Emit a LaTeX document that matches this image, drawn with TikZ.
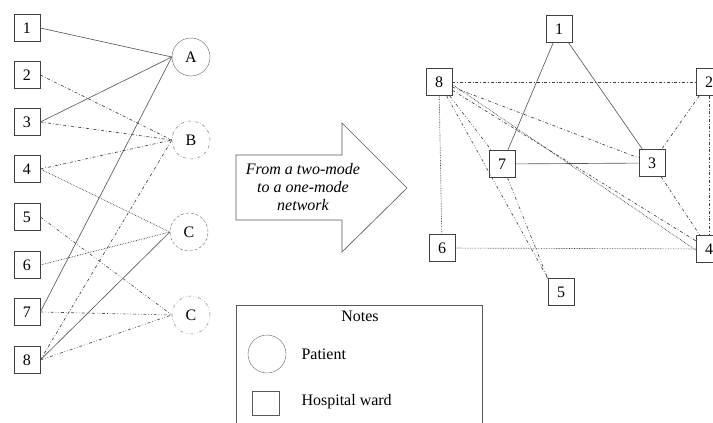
\documentclass[tikz,border=0pt]{standalone}
\usepackage{fontspec}
\setmainfont{Liberation Serif}
\begin{document}
\begin{tikzpicture}[x=1pt,y=-1pt,
    font=\fontsize{16}{19}\selectfont,
    ward/.style={draw=black!75, line width=0.7pt, minimum width=26, minimum height=27, inner sep=0},
    patient/.style={draw=black!60, circle, minimum size=38, inner sep=0},
    lineA/.style={draw=black!65, line width=0.65pt},
    lineB/.style={draw=black!75, line width=0.65pt, dash dot},
    lineC/.style={draw=black!80, line width=0.65pt, densely dotted},
    lineD/.style={draw=black!70, line width=0.65pt, dash dot dot}]
    \useasboundingbox (0,0) rectangle (713,423);
    \clip (0,0) rectangle (713,423);
    % two-mode network
    \foreach \i/\yy in {1/28,2/75,3/122,4/169,5/217,6/265,7/312,8/360} {
        \node[ward] (l\i) at (27,\yy) {\i};
    }
    \node[patient] (pA) at (191,57) {A};
    \node[patient, dash dot] (pB) at (191,140) {B};
    \node[patient, densely dashed] (pC) at (189,232) {C};
    \node[patient, dash dot dot] (pD) at (191,315) {C};
    \draw[lineA] (l1.east) -- (pA.west);
    \draw[lineA] (l3.east) -- (pA.west);
    \draw[lineA] (l7.east) -- (pA.west);
    \draw[lineB] (l2.east) -- (pB.west);
    \draw[lineB] (l3.east) -- (pB.west);
    \draw[lineB] (l4.east) -- (pB.west);
    \draw[lineB] (l8.east) -- (pB.west);
    \draw[lineC] (l4.east) -- (pC.west);
    \draw[lineC] (l6.east) -- (pC.west);
    \draw[lineA] (l8.east) -- (pC.west);
    \draw[lineD] (l5.east) -- (pD.west);
    \draw[lineD] (l7.east) -- (pD.west);
    \draw[lineD] (l8.east) -- (pD.west);
    % arrow
    \draw[black!65, line width=0.65pt] (236,155) -- (342,155) -- (342,123) -- (407,188)
        -- (342,252) -- (342,220) -- (236,220) -- cycle;
    \node[align=center, font=\fontsize{16}{18}\selectfont\itshape] (lbl) at (303,187)
        {From a two-mode\\to a one-mode\\network};
    % one-mode network
    \node[ward] (r1) at (559,29) {1};
    \node[ward] (r2) at (709,82) {2};
    \node[ward] (r3) at (652,163) {3};
    \node[ward] (r4) at (709,249) {4};
    \node[ward] (r5) at (561,292) {5};
    \node[ward] (r6) at (442,248) {6};
    \node[ward] (r7) at (502,164) {7};
    \node[ward] (r8) at (439,82) {8};
    \draw[lineA] (r1) -- (r7);
    \draw[lineA] (r1) -- (r3);
    \draw[lineA] (r7) -- (r3);
    \draw[lineB] (r8) -- (r2);
    \draw[lineB] (r8) -- (r3);
    \draw[lineB] (r2) -- (r3);
    \draw[lineB] (r2) -- (r4);
    \draw[lineB] (r3) -- (r4);
    \draw[lineB] (r8) -- (r4);
    \draw[lineC] ([yshift=-2.5pt]r8.east) -- ([yshift=-1pt]r4.west);
    \draw[lineC] (r8) -- (r6);
    \draw[lineC] (r6) -- (r4);
    \draw[lineD] (r8) -- (r7);
    \draw[lineD] (r8) -- (r5.north west);
    \draw[lineD] (r7) -- (r5.north west);
    % notes
    \draw[black!65, line width=0.65pt] (236,440) -- (236,305) -- (482,305) -- (482,440);
    \node (notes) at (360,316) {Notes};
    \node[patient] (legP) at (267,354) {};
    \node[right] (txtP) at (298,354) {Patient};
    \node[ward, minimum width=27, minimum height=24, draw=black!65] (legW) at (266,403) {};
    \node[right] (txtW) at (298,402) {Hospital ward};
\end{tikzpicture}
\end{document}
